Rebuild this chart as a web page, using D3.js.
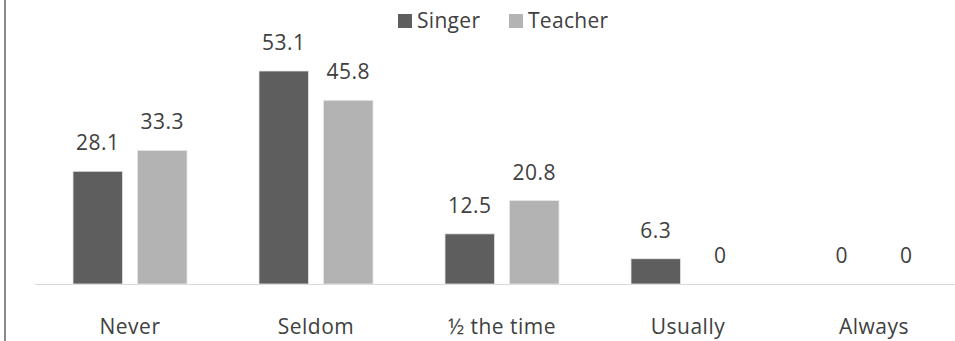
<!DOCTYPE html>
<html><head><meta charset="utf-8">
<script src="https://cdn.jsdelivr.net/npm/d3@7"></script>
<style>body{margin:0;background:#fff}svg{display:block}text{font-family:"Open Sans",sans-serif}</style>
</head><body><svg id="c" width="955" height="341"></svg>
<script>
const categories = ["Never","Seldom","½ the time","Usually","Always"];
const seriesNames = ["Singer","Teacher"];
const singer = [28.1,53.1,12.5,6.3,0];
const teacher = [33.3,45.8,20.8,0,0];
const colors = ["#5e5e5e","#b3b3b3"];

const svg = d3.select("#c");
const W=955,H=341;
const base=284;
const FS=21;
const x0=d3.scaleBand().domain(categories).range([37,967]).paddingInner(0).paddingOuter(0);
const x1=d3.scaleBand().domain(seriesNames).range([36,150]).paddingInner(0.23).paddingOuter(0);
const y=d3.scaleLinear().domain([0,53.1]).range([base,71]);

svg.append("line").attr("x1",5).attr("x2",5).attr("y1",0).attr("y2",H).attr("stroke","#8a8a8a").attr("stroke-width",2);
svg.append("line").attr("x1",35).attr("x2",W).attr("y1",base+0.5).attr("y2",base+0.5).attr("stroke","#d9d9d9").attr("stroke-width",1);

const data=categories.map((c,i)=>({c,vals:[singer[i],teacher[i]]}));
const g=svg.selectAll("g.cat").data(data).join("g").attr("transform",d=>`translate(${x0(d.c)},0)`);
g.selectAll("rect").data(d=>d.vals.map((v,j)=>({v,s:seriesNames[j],j}))).join("rect")
  .attr("x",d=>x1(d.s)).attr("width",x1.bandwidth())
  .attr("y",d=>y(d.v)).attr("height",d=>base-y(d.v))
  .attr("fill",d=>colors[d.j]).attr("stroke",d=>d.v>0?"#e6e6e6":"none").attr("stroke-width",0.8);
g.selectAll("text.v").data(d=>d.vals.map((v,j)=>({v,s:seriesNames[j],j}))).join("text").attr("class","v")
  .attr("x",d=>x1(d.s)+x1.bandwidth()/2).attr("y",d=>y(d.v)-21)
  .attr("text-anchor","middle").attr("font-size",FS).attr("letter-spacing",0.5).attr("fill","#404040").text(d=>d.v);
svg.selectAll("text.cat").data(categories).join("text").attr("class","cat")
  .attr("x",d=>x0(d)+x0.bandwidth()/2).attr("y",334).attr("text-anchor","middle")
  .attr("font-size",FS).attr("letter-spacing",0.5).attr("fill","#404040").text(d=>d);

const leg=svg.append("g");
const lx=[398,509];
seriesNames.forEach((s,i)=>{
  leg.append("rect").attr("x",lx[i]).attr("y",14).attr("width",14).attr("height",14).attr("fill",colors[i]);
  leg.append("text").attr("x",lx[i]+19).attr("y",28).attr("font-size",FS).attr("letter-spacing",0.3).attr("fill","#404040").text(s);
});
</script></body></html>
